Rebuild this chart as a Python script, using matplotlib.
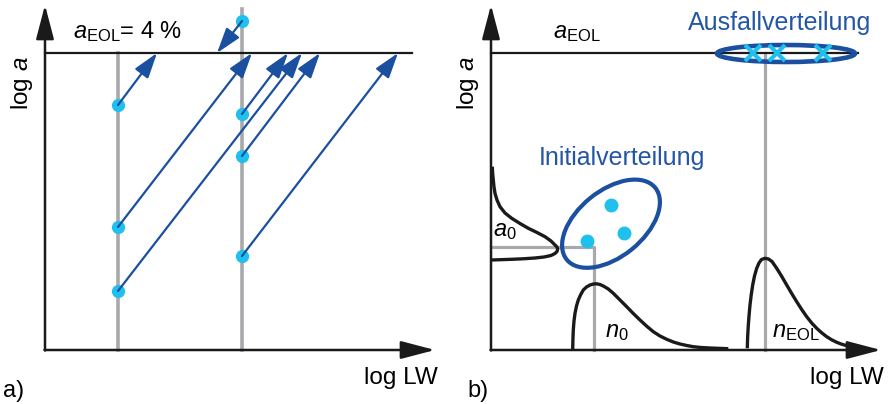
import matplotlib
matplotlib.use("Agg")
import matplotlib.pyplot as plt
from matplotlib.patches import Ellipse

plt.rcParams['font.family'] = ['Liberation Sans', 'DejaVu Sans']
plt.rcParams['mathtext.fontset'] = 'custom'
plt.rcParams['mathtext.rm'] = 'Liberation Sans'
plt.rcParams['mathtext.it'] = 'Liberation Sans:italic'

# colours
blue = '#1b4fa0'
text_blue = '#2456a6'
cyan = '#1fc0ee'
gray = '#a8a9ad'
black = '#1a1a1a'

# common levels (schematic units)
a_eol = 29.7
x_tip = 39.0
y_tip = 34.5

# ---- panel a: crack sizes at two inspections -> lifetime at a_EOL
lw_insp = [7.3, 19.7]
a_insp1 = [24.5, 12.3, 5.9]
lw_fail1 = [11.2, 20.7, 25.7]
a_insp2 = [32.9, 23.6, 19.4, 9.4]
lw_fail2 = [17.2, 24.3, 27.5, 35.3]

# ---- panel b: distributions
a0_x = [0.13, 0.17, 0.23, 0.3, 0.4, 0.6, 0.9, 1.4, 2.07, 2.9, 3.73, 4.6, 5.4, 6.0,
        6.4, 6.6, 6.67, 6.6, 6.4, 6.0, 5.3, 4.4, 3.2, 2.07, 0.07]
a0_y = [18.33, 17.6, 17.0, 16.3, 15.67, 15.0, 14.33, 13.7, 13.17, 12.65, 12.17, 11.75,
        11.33, 10.9, 10.5, 10.3, 10.1, 9.85, 9.65, 9.45, 9.3, 9.2, 9.12, 9.07, 9.0]
n0_x = [8.17, 8.19, 8.23, 8.3, 8.4, 8.55, 8.73, 8.95, 9.23, 9.55, 9.9, 10.25, 10.57,
        10.9, 11.23, 11.73, 12.23, 12.9, 13.57, 14.23, 14.9, 15.57, 16.23, 16.9,
        17.57, 18.23, 18.9, 19.57, 20.23, 21.0, 21.9, 23.73]
n0_y = [0.1, 1.0, 2.0, 2.9, 3.67, 4.4, 5.0, 5.5, 6.0, 6.3, 6.5, 6.6, 6.62,
        6.55, 6.4, 6.1, 5.67, 5.0, 4.33, 3.65, 3.0, 2.38, 1.83, 1.4,
        1.07, 0.8, 0.6, 0.45, 0.33, 0.25, 0.2, 0.13]
neol_x = [25.63, 25.66, 25.72, 25.8, 25.9, 26.02, 26.17, 26.35, 26.57, 26.8, 27.05,
          27.4, 27.75, 28.1, 28.57, 29.05, 29.57, 30.07, 30.57, 31.07, 31.57, 32.07,
          32.57, 33.07, 33.57, 34.07, 34.57, 35.07, 35.57, 36.4]
neol_y = [0.17, 1.2, 2.3, 3.4, 4.5, 5.5, 6.5, 7.4, 8.17, 8.7, 9.05,
          9.17, 9.1, 8.85, 8.17, 7.4, 6.5, 5.65, 4.83, 4.05, 3.33, 2.7,
          2.17, 1.72, 1.33, 1.02, 0.77, 0.58, 0.43, 0.27]
init_lw = [9.57, 12.0, 13.3]
init_a = [10.93, 14.5, 11.67]
fail_lw = [26.23, 28.57, 33.23]
a0_level = 10.27
n0_pos = 10.25
neol_pos = 27.4

fig = plt.figure(figsize=(8.92, 4.04), dpi=100)
axa = fig.add_axes([0, 0, 0.5, 1])
axb = fig.add_axes([0.5, 0, 0.5, 1])
for ax in (axa, axb):
    ax.set_xlim(-4.5, 40.1)
    ax.set_ylim(-5.4, 35)
    ax.axis('off')
    # axes with arrow heads
    ax.annotate('', xy=(0, y_tip), xytext=(0, -0.05),
                arrowprops=dict(arrowstyle='-|>,head_length=2.1,head_width=0.55',
                                color=black, lw=1.8, shrinkA=0, shrinkB=0))
    ax.annotate('', xy=(x_tip, 0), xytext=(-0.05, 0),
                arrowprops=dict(arrowstyle='-|>,head_length=2.1,head_width=0.55',
                                color=black, lw=1.8, shrinkA=0, shrinkB=0))
    ax.plot([0, 36.7], [a_eol, a_eol], color=black, lw=1.6, zorder=2)
    ax.text(39.3, -3.4, 'log LW', fontsize=17.5, ha='right', va='baseline')
    ax.text(-2.3, 26.7, 'log $a$', fontsize=17.5, rotation=90, ha='center', va='center')

# ---- panel a
axa.plot([lw_insp[0]] * 2, [0, a_eol], color=gray, lw=2.6, zorder=1)
axa.plot([lw_insp[1]] * 2, [0, 34.1], color=gray, lw=2.6, zorder=1)
axa.plot([lw_insp[0]] * len(a_insp1), a_insp1, 'o', color=cyan, ms=8.5, zorder=3)
axa.plot([lw_insp[1]] * len(a_insp2), a_insp2, 'o', color=cyan, ms=8.5, zorder=3)
for a0, lw_end in zip(a_insp1, lw_fail1):
    axa.annotate('', xy=(lw_end, a_eol), xytext=(lw_insp[0], a0), zorder=4,
                 arrowprops=dict(arrowstyle='-|>,head_length=1.55,head_width=0.5',
                                 color=blue, lw=1.6, shrinkA=0, shrinkB=0))
for a0, lw_end in zip(a_insp2, lw_fail2):
    axa.annotate('', xy=(lw_end, a_eol), xytext=(lw_insp[1], a0), zorder=4,
                 arrowprops=dict(arrowstyle='-|>,head_length=1.55,head_width=0.5',
                                 color=blue, lw=1.6, shrinkA=0, shrinkB=0))
axa.text(2.8, 31.2, r'$a_{\mathrm{EOL}}$= 4 %', fontsize=17, va='baseline')
axa.text(-4.2, -4.7, 'a)', fontsize=17, va='baseline')

# ---- panel b
axb.plot([0, n0_pos, n0_pos], [a0_level, a0_level, 0], color=gray, lw=2.3, zorder=1)
axb.plot([neol_pos, neol_pos], [0, a_eol], color=gray, lw=2.3, zorder=1)
axb.plot(a0_x, a0_y, color=black, lw=2.4, zorder=2, solid_capstyle='butt')
axb.plot(n0_x, n0_y, color=black, lw=2.4, zorder=2, solid_capstyle='butt')
axb.plot(neol_x, neol_y, color=black, lw=2.4, zorder=2, solid_capstyle='butt')
axb.add_patch(Ellipse((12.0, 12.63), 11.4, 6.6, angle=39, fill=False,
                      ec=blue, lw=3, zorder=3))
axb.plot(init_lw, init_a, 'o', color=cyan, ms=9, zorder=4)
axb.add_patch(Ellipse((29.5, 29.65), 13.8, 1.7, fill=False, ec=blue, lw=3.3, zorder=3))
axb.plot(fail_lw, [a_eol] * len(fail_lw), 'x', color=cyan, ms=11, mew=3, zorder=4)
axb.text(6.2, 31.2, r'$a_{\mathrm{EOL}}$', fontsize=17, va='baseline')
axb.text(19.7, 32.0, 'Ausfallverteilung', fontsize=18, color=text_blue, va='baseline')
axb.text(4.8, 18.5, 'Initialverteilung', fontsize=18, color=text_blue, va='baseline')
axb.text(0.2, 11.4, r'$a_0$', fontsize=17, va='baseline')
axb.text(11.4, 1.33, r'$n_0$', fontsize=17, va='baseline')
axb.text(28.07, 1.33, r'$n_{\mathrm{EOL}}$', fontsize=17, va='baseline')
axb.text(-2.4, -4.7, 'b)', fontsize=17, va='baseline')

fig.savefig('out.png', dpi=100)
